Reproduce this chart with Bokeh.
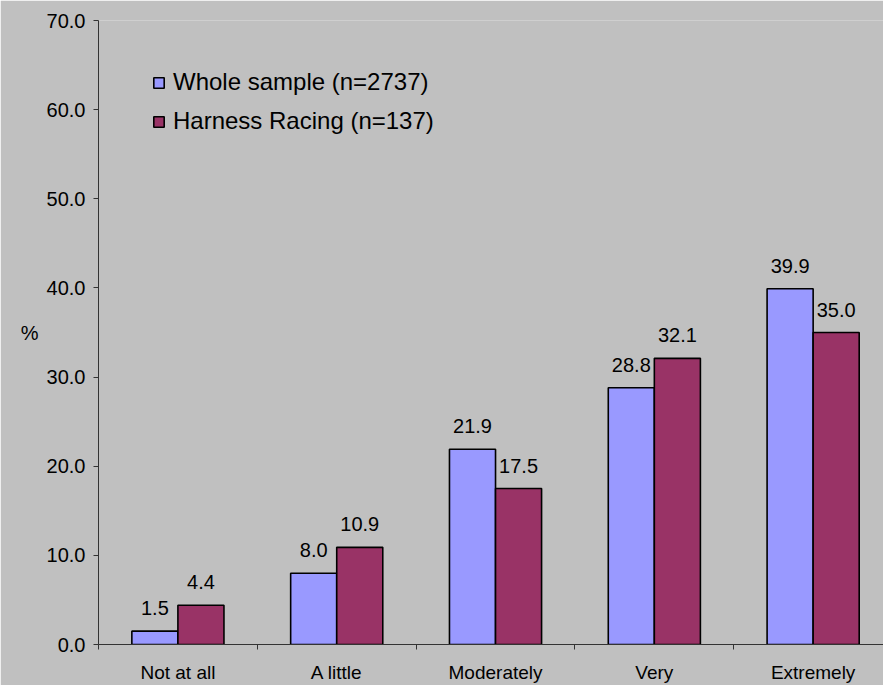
import re
import numpy as np
from bokeh.plotting import figure
from bokeh.models import (Range1d, FixedTicker, NumeralTickFormatter, ColumnDataSource,
                          Legend, LegendItem)
from bokeh.core.properties import value
from bokeh.embed import file_html
from bokeh.resources import INLINE

categories = ["Not at all", "A little", "Moderately", "Very", "Extremely"]
whole_sample = [1.5, 8.0, 21.9, 28.8, 39.9]
harness_racing = [4.4, 10.9, 17.5, 32.1, 35.0]
series_names = ["Whole sample (n=2737)", "Harness Racing (n=137)"]
y_ticks = [0, 10, 20, 30, 40, 50, 60, 70]

BG = "#C0C0C0"
FONT = value("Liberation Sans")
COLORS = ["#9999FF", "#993366"]

p = figure(width=883, height=685, output_backend="svg", toolbar_location=None,
           x_range=Range1d(0, 4.943), y_range=Range1d(0, 70),
           min_border_left=98, min_border_right=0, min_border_top=20, min_border_bottom=41)
p.background_fill_color = BG
p.border_fill_color = BG
p.outline_line_color = None
p.grid.visible = False

idx = np.arange(len(categories)) + 0.5
bw = 0.29
src = ColumnDataSource(dict(
    x1=idx - bw / 2, x2=idx + bw / 2,
    w=whole_sample, h=harness_racing,
    wl=["%.1f" % v for v in whole_sample],
    hl=["%.1f" % v for v in harness_racing],
))
r1 = p.vbar(x="x1", top="w", width=bw, source=src, fill_color=COLORS[0],
            line_color="black", line_width=1.6)
r2 = p.vbar(x="x2", top="h", width=bw, source=src, fill_color=COLORS[1],
            line_color="black", line_width=1.6)

for xc, yc, tc in (("x1", "w", "wl"), ("x2", "h", "hl")):
    p.text(x=xc, y=yc, text=tc, source=src, text_font=FONT, text_font_size="20px",
           text_align="center", text_baseline="alphabetic", y_offset=-23,
           text_color="black")

# x axis
xa = p.xaxis[0]
xa.ticker = FixedTicker(ticks=list(idx), minor_ticks=list(range(len(categories) + 1)))
xa.major_label_overrides = {float(t): c for t, c in zip(idx, categories)}
xa.major_tick_out = 0
xa.major_tick_in = 0
xa.minor_tick_out = 5
xa.minor_tick_in = 0
xa.minor_tick_line_color = "#333333"
xa.axis_line_color = "#333333"
xa.major_label_text_font = "Liberation Sans"
xa.major_label_text_font_size = "19px"
xa.major_label_text_color = "black"
xa.major_label_standoff = 12

# y axis
ya = p.yaxis[0]
ya.ticker = FixedTicker(ticks=y_ticks)
ya.formatter = NumeralTickFormatter(format="0.0")
ya.major_tick_out = 5
ya.major_tick_in = 0
ya.minor_tick_out = 0
ya.minor_tick_in = 0
ya.major_tick_line_color = "#333333"
ya.axis_line_color = "#333333"
ya.major_label_text_font = "Liberation Sans"
ya.major_label_text_font_size = "20px"
ya.major_label_text_color = "black"
ya.major_label_standoff = 8
ya.axis_label = "%"
ya.axis_label_orientation = "horizontal"
ya.axis_label_text_font = "Liberation Sans"
ya.axis_label_text_font_size = "20px"
ya.axis_label_text_font_style = "normal"
ya.axis_label_text_color = "black"
ya.axis_label_standoff = 5

legend = Legend(items=[LegendItem(label=series_names[0], renderers=[r1]),
                       LegendItem(label=series_names[1], renderers=[r2])],
                location=(49, 504), margin=0, padding=5, spacing=11,
                glyph_width=13, glyph_height=13, label_standoff=8,
                label_text_font="Liberation Sans", label_text_font_size="24px",
                label_text_color="black",
                background_fill_alpha=0, border_line_alpha=0)
p.add_layout(legend)

html = file_html(p, INLINE)
html = re.sub(r"<body>", '<body style="margin:0;overflow:hidden;background-color:#C0C0C0;">',
              html, count=1)
open("out.html", "w").write(html)
